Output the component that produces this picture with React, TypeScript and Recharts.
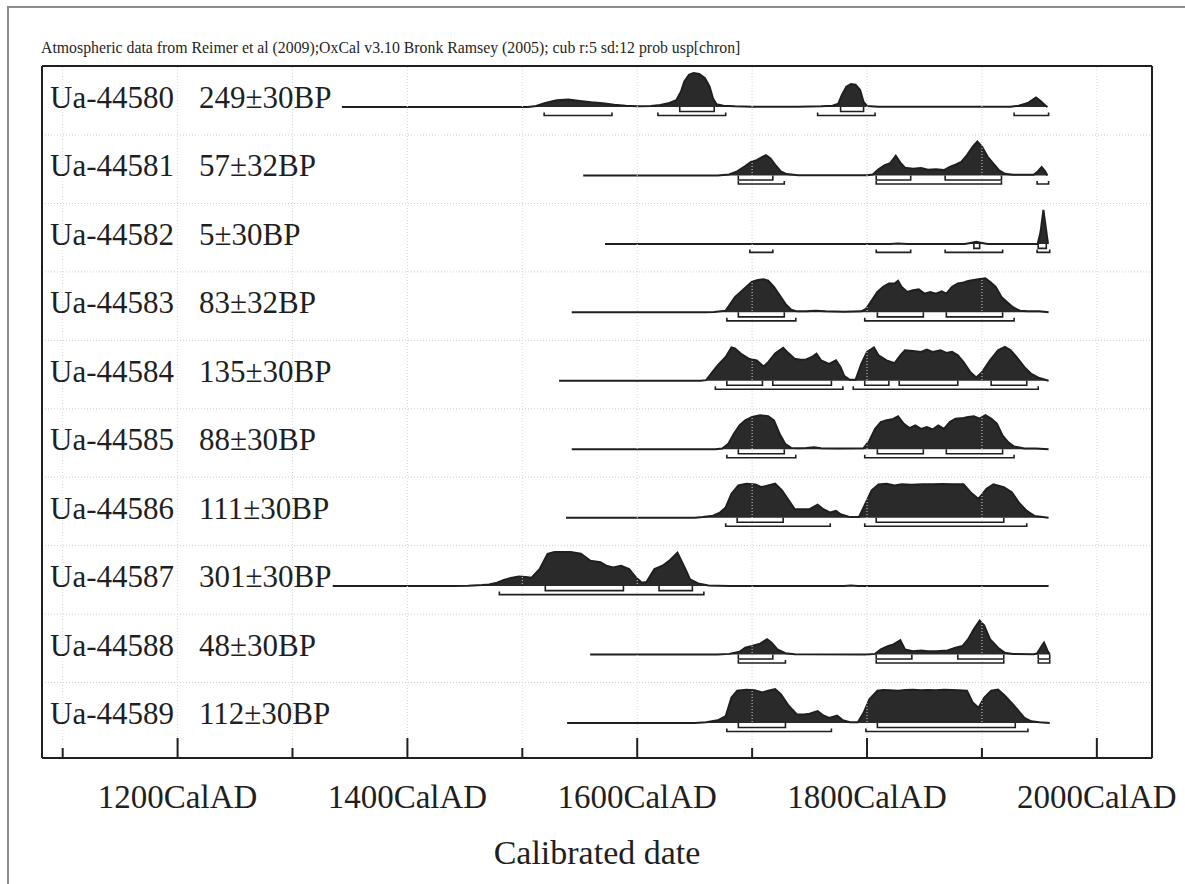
import React from 'react';
import { ComposedChart, Area, Line, XAxis, YAxis, ReferenceLine } from 'recharts';

// ---------- text ----------
const titleText =
  'Atmospheric data from Reimer et al (2009);OxCal v3.10 Bronk Ramsey (2005); cub r:5 sd:12 prob usp[chron]';
const axisTitle = 'Calibrated date';
const sampleIds = ['Ua-44580', 'Ua-44581', 'Ua-44582', 'Ua-44583', 'Ua-44584', 'Ua-44585', 'Ua-44586', 'Ua-44587', 'Ua-44588', 'Ua-44589'];
const bpDates = ['249±30BP', '57±32BP', '5±30BP', '83±32BP', '135±30BP', '88±30BP', '111±30BP', '301±30BP', '48±30BP', '112±30BP'];
const xTicks = [1100, 1200, 1300, 1400, 1500, 1600, 1700, 1800, 1900, 2000];
const xLabelTicks = [1200, 1400, 1600, 1800, 2000];
const xDomain = [1082, 2048];

// ---------- probability distributions [year, relative probability] ----------
const dist44580: [number, number][] = [
  [1343, 0], [1505, 0], [1512, 0.03], [1520, 0.12], [1530, 0.2], [1540, 0.22], [1550, 0.18], [1560, 0.14], [1570, 0.11],
  [1580, 0.07], [1590, 0.04], [1600, 0.02], [1612, 0.03], [1620, 0.06], [1628, 0.12], [1634, 0.2], [1638, 0.45],
  [1641, 0.75], [1645, 0.95], [1649, 1.0], [1654, 0.97], [1659, 0.85], [1663, 0.6], [1666, 0.25], [1669, 0.08],
  [1675, 0.04], [1685, 0.02], [1700, 0.01], [1740, 0.01], [1760, 0.02], [1770, 0.04], [1775, 0.1], [1778, 0.35],
  [1782, 0.6], [1786, 0.68], [1790, 0.66], [1794, 0.5], [1797, 0.15], [1800, 0.03], [1810, 0.01], [1925, 0.01],
  [1932, 0.04], [1940, 0.12], [1947, 0.28], [1951, 0.18], [1955, 0.05], [1957, 0],
];
const dist44581: [number, number][] = [
  [1553, 0], [1670, 0], [1680, 0.03], [1687, 0.12], [1694, 0.28], [1699, 0.4], [1704, 0.45], [1709, 0.55], [1712, 0.6],
  [1716, 0.5], [1720, 0.32], [1725, 0.12], [1730, 0.04], [1740, 0.01], [1800, 0.01], [1805, 0.03], [1810, 0.18],
  [1815, 0.3], [1820, 0.36], [1825, 0.58], [1829, 0.38], [1833, 0.23], [1840, 0.2], [1847, 0.22], [1853, 0.17],
  [1860, 0.18], [1867, 0.16], [1872, 0.25], [1877, 0.32], [1882, 0.4], [1887, 0.6], [1892, 0.85], [1896, 1.0],
  [1900, 0.85], [1905, 0.55], [1910, 0.35], [1915, 0.15], [1920, 0.05], [1927, 0.02], [1945, 0.02], [1948, 0.1],
  [1952, 0.25], [1955, 0.12], [1957, 0],
];
const dist44582: [number, number][] = [
  [1572, 0], [1820, 0], [1827, 0.01], [1835, 0], [1885, 0], [1890, 0.03], [1895, 0.06], [1900, 0.03], [1905, 0],
  [1948.5, 0], [1951, 0.35], [1953.5, 1.0], [1955.5, 0.5], [1957.5, 0],
];
const dist44583: [number, number][] = [
  [1543, 0], [1660, 0], [1667, 0.01], [1677, 0.05], [1680, 0.2], [1685, 0.45], [1690, 0.6], [1695, 0.75], [1700, 0.9],
  [1705, 0.95], [1710, 0.97], [1714, 0.93], [1719, 0.75], [1724, 0.5], [1729, 0.25], [1734, 0.08], [1739, 0.03],
  [1747, 0.03], [1755, 0.05], [1764, 0.03], [1780, 0.02], [1795, 0.03], [1799, 0.1], [1804, 0.35], [1809, 0.6],
  [1814, 0.75], [1819, 0.85], [1824, 0.85], [1827, 0.93], [1830, 0.75], [1835, 0.6], [1840, 0.65], [1845, 0.68],
  [1850, 0.55], [1855, 0.6], [1860, 0.55], [1865, 0.62], [1869, 0.55], [1874, 0.75], [1879, 0.85], [1884, 0.88],
  [1888, 0.92], [1893, 0.95], [1898, 0.98], [1903, 1.0], [1907, 0.9], [1912, 0.75], [1917, 0.45], [1922, 0.3],
  [1927, 0.15], [1933, 0.05], [1940, 0.03], [1950, 0.03], [1958, 0],
];
const dist44584: [number, number][] = [
  [1532, 0], [1655, 0], [1660, 0.02], [1664, 0.2], [1670, 0.45], [1677, 0.7], [1682, 0.98], [1685, 0.95], [1690, 0.8],
  [1697, 0.65], [1704, 0.6], [1710, 0.42], [1714, 0.55], [1720, 0.8], [1727, 0.97], [1732, 0.8], [1737, 0.65],
  [1742, 0.62], [1747, 0.63], [1752, 0.7], [1756, 0.8], [1760, 0.6], [1767, 0.5], [1773, 0.6], [1777, 0.4],
  [1780, 0.15], [1785, 0.03], [1790, 0.03], [1795, 0.5], [1800, 0.85], [1806, 0.98], [1810, 0.75], [1817, 0.6],
  [1824, 0.52], [1829, 0.75], [1833, 0.9], [1840, 0.88], [1847, 0.85], [1852, 0.92], [1857, 0.85], [1864, 0.9],
  [1869, 0.82], [1874, 0.85], [1879, 0.75], [1884, 0.55], [1890, 0.25], [1895, 0.1], [1900, 0.25], [1907, 0.6],
  [1914, 0.9], [1920, 1.0], [1925, 0.9], [1930, 0.7], [1937, 0.4], [1943, 0.2], [1950, 0.08], [1958, 0],
];
const dist44585: [number, number][] = [
  [1543, 0], [1668, 0], [1674, 0.02], [1679, 0.15], [1684, 0.45], [1689, 0.7], [1694, 0.85], [1700, 0.95], [1707, 1.0],
  [1714, 0.97], [1719, 0.85], [1724, 0.45], [1729, 0.15], [1734, 0.04], [1740, 0.03], [1747, 0.04], [1754, 0.06],
  [1760, 0.03], [1774, 0.02], [1797, 0.03], [1802, 0.25], [1807, 0.6], [1812, 0.8], [1817, 0.85], [1822, 0.88],
  [1827, 0.97], [1832, 0.75], [1837, 0.62], [1842, 0.7], [1847, 0.6], [1852, 0.65], [1857, 0.58], [1862, 0.7],
  [1867, 0.6], [1872, 0.8], [1877, 0.9], [1884, 0.92], [1888, 0.95], [1893, 0.97], [1898, 0.9], [1903, 1.0],
  [1908, 0.9], [1913, 0.75], [1918, 0.4], [1923, 0.2], [1928, 0.08], [1937, 0.02], [1947, 0.02], [1958, 0],
];
const dist44586: [number, number][] = [
  [1538, 0], [1650, 0], [1657, 0.02], [1666, 0.06], [1672, 0.15], [1677, 0.3], [1682, 0.7], [1688, 0.95], [1695, 1.0],
  [1703, 0.98], [1708, 0.9], [1714, 0.95], [1720, 1.0], [1726, 0.8], [1732, 0.5], [1737, 0.25], [1744, 0.25],
  [1750, 0.25], [1757, 0.38], [1762, 0.25], [1768, 0.15], [1773, 0.2], [1777, 0.1], [1784, 0.03], [1793, 0.02],
  [1797, 0.3], [1804, 0.8], [1810, 0.98], [1817, 1.0], [1824, 0.95], [1830, 0.98], [1839, 0.97], [1848, 0.98],
  [1857, 0.98], [1866, 0.99], [1875, 0.98], [1884, 0.98], [1890, 0.75], [1897, 0.55], [1904, 0.85], [1910, 0.98],
  [1919, 0.9], [1926, 0.75], [1932, 0.45], [1939, 0.2], [1946, 0.05], [1958, 0],
];
const dist44587: [number, number][] = [
  [1335, 0], [1440, 0], [1453, 0.01], [1465, 0.03], [1471, 0.05], [1478, 0.1], [1484, 0.18], [1490, 0.24],
  [1497, 0.28], [1503, 0.27], [1508, 0.25], [1515, 0.5], [1522, 0.95], [1528, 1.0], [1542, 1.0], [1551, 0.95],
  [1559, 0.75], [1568, 0.7], [1573, 0.6], [1579, 0.55], [1586, 0.6], [1593, 0.5], [1599, 0.25], [1604, 0.1],
  [1608, 0.12], [1615, 0.5], [1622, 0.6], [1628, 0.75], [1635, 0.98], [1642, 0.5], [1646, 0.2], [1653, 0.08],
  [1662, 0.02], [1670, 0.01], [1680, 0], [1780, 0], [1786, 0.02], [1792, 0], [1958, 0],
];
const dist44588: [number, number][] = [
  [1559, 0], [1670, 0], [1680, 0.02], [1689, 0.08], [1694, 0.2], [1700, 0.25], [1707, 0.32], [1713, 0.45],
  [1717, 0.35], [1722, 0.15], [1729, 0.04], [1737, 0.01], [1800, 0], [1807, 0.02], [1812, 0.15], [1818, 0.25],
  [1823, 0.3], [1829, 0.42], [1833, 0.15], [1840, 0.1], [1847, 0.12], [1853, 0.1], [1860, 0.1], [1870, 0.12],
  [1877, 0.2], [1883, 0.25], [1888, 0.45], [1893, 0.75], [1898, 1.0], [1902, 0.85], [1907, 0.45], [1914, 0.2],
  [1920, 0.05], [1927, 0.02], [1945, 0.01], [1948, 0.03], [1951, 0.2], [1954, 0.35], [1957, 0.12], [1959, 0],
];
const dist44589: [number, number][] = [
  [1539, 0], [1650, 0], [1660, 0.02], [1670, 0.08], [1677, 0.2], [1682, 0.75], [1687, 0.95], [1695, 0.98],
  [1702, 0.96], [1709, 0.9], [1714, 0.95], [1720, 1.0], [1725, 0.85], [1732, 0.5], [1739, 0.25], [1745, 0.25],
  [1750, 0.27], [1757, 0.35], [1762, 0.22], [1767, 0.15], [1774, 0.22], [1779, 0.08], [1785, 0.02], [1792, 0.02],
  [1797, 0.3], [1802, 0.7], [1809, 0.95], [1814, 0.97], [1820, 0.96], [1827, 0.95], [1833, 0.97], [1840, 0.98],
  [1847, 0.96], [1853, 0.97], [1860, 0.96], [1867, 0.98], [1874, 0.97], [1880, 0.96], [1887, 0.95], [1892, 0.6],
  [1897, 0.45], [1902, 0.75], [1908, 0.95], [1914, 0.98], [1920, 0.8], [1927, 0.55], [1932, 0.35], [1937, 0.15],
  [1943, 0.05], [1950, 0.02], [1959, 0],
];

// ---------- 68.2% and 95.4% ranges [from, to] ----------
const r68_44580 = [[1637, 1667], [1777, 1797]];
const r95_44580 = [[1519, 1578], [1618, 1677], [1757, 1807], [1928, 1958]];
const r68_44581 = [[1688, 1718], [1808, 1838], [1868, 1917]];
const r95_44581 = [[1688, 1728], [1808, 1917], [1948, 1958]];
const r68_44582 = [[1893, 1898], [1949, 1956]];
const r95_44582 = [[1698, 1718], [1808, 1838], [1868, 1918], [1948, 1959]];
const r68_44583 = [[1688, 1728], [1809, 1849], [1869, 1918]];
const r95_44583 = [[1678, 1738], [1798, 1928]];
const r68_44584 = [[1678, 1709], [1718, 1769], [1798, 1819], [1828, 1879], [1908, 1939]];
const r95_44584 = [[1668, 1779], [1788, 1949]];
const r68_44585 = [[1688, 1728], [1809, 1849], [1869, 1918]];
const r95_44585 = [[1678, 1738], [1798, 1928]];
const r68_44586 = [[1687, 1727], [1808, 1919]];
const r95_44586 = [[1677, 1768], [1798, 1939]];
const r68_44587 = [[1520, 1588], [1619, 1648]];
const r95_44587 = [[1480, 1658]];
const r68_44588 = [[1688, 1718], [1808, 1839], [1879, 1919], [1949, 1959]];
const r95_44588 = [[1688, 1729], [1808, 1919], [1949, 1959]];
const r68_44589 = [[1688, 1729], [1809, 1929]];
const r95_44589 = [[1678, 1769], [1799, 1940]];

const distributions = [dist44580, dist44581, dist44582, dist44583, dist44584, dist44585, dist44586, dist44587, dist44588, dist44589];
const ranges68 = [r68_44580, r68_44581, r68_44582, r68_44583, r68_44584, r68_44585, r68_44586, r68_44587, r68_44588, r68_44589];
const ranges95 = [r95_44580, r95_44581, r95_44582, r95_44583, r95_44584, r95_44585, r95_44586, r95_44587, r95_44588, r95_44589];

// ---------- layout (y units: one row = 1) ----------
const W = 1185;
const H = 884;
const PLOT = { left: 42, top: 66, right: 1152, bottom: 758 };
const ROWS = sampleIds.length;
const ROW_PX = 68.44;
const px = (p: number) => p / ROW_PX;
const Y_TOP = px(PLOT.bottom - PLOT.top);
const BOTTOM_PAD = px(35);
const PEAK = px(34);
const baseOf = (i: number) => ROWS - 1 - i + BOTTOM_PAD;

const areaData = distributions.map((d, i) => d.map(([x, p]) => ({ x, y: baseOf(i) + p * PEAK })));
const bracketData = (rs: number[][], i: number, off: number, tick: number) =>
  rs.flatMap(([a, b]) => {
    const yb = baseOf(i) - px(off);
    const yt = yb + px(tick);
    return [
      { x: a, y: yt },
      { x: a, y: yb },
      { x: b, y: yb },
      { x: b, y: yt },
      { x: b, y: null },
    ];
  });
const data68 = ranges68.map((r, i) => bracketData(r, i, 4.5, 4.5));
const data95 = ranges95.map((r, i) => bracketData(r, i, 8.5, 3));
const baselineTicks = sampleIds.map((_, i) => baseOf(i));
const gridRows = sampleIds.slice(0, -1).map((_, i) => baseOf(i) - px(28));

const INK = '#1f1f1f';
const SERIF = '"Liberation Serif", "DejaVu Serif", serif';

const XTick = (props: any) => {
  const { x, y, payload } = props;
  const v = payload.value as number;
  const major = xLabelTicks.includes(v);
  return (
    <g>
      <line x1={x} x2={x} y1={y} y2={y - (major ? 20 : 10)} stroke={INK} strokeWidth={2} />
      {major && (
        <text x={x} y={y + 50} textAnchor="middle" fontSize={33} fontFamily={SERIF} fill={INK}>
          {`${v}CalAD`}
        </text>
      )}
    </g>
  );
};

const RowLabel = (props: any) => {
  const { x, y, payload } = props;
  const i = Math.round(ROWS - 1 + BOTTOM_PAD - payload.value);
  return (
    <g>
      <text x={x + 8} y={y + 1} fontSize={31} fontFamily={SERIF} fill={INK}>
        {sampleIds[i]}
      </text>
      <text x={x + 157} y={y + 1} fontSize={31} fontFamily={SERIF} fill={INK}>
        {bpDates[i]}
      </text>
    </g>
  );
};

export default function App() {
  return (
    <div
      style={{
        position: 'absolute',
        left: 0,
        top: 0,
        width: W,
        height: H,
        background: '#fff',
        overflow: 'hidden',
        fontFamily: SERIF,
        color: INK,
      }}
    >
      <div
        style={{
          position: 'absolute',
          left: 7,
          top: 6,
          width: 1400,
          height: 1100,
          border: '2px solid #8c8c8c',
          boxSizing: 'border-box',
        }}
      />
      <div style={{ position: 'absolute', left: 41, top: 40, fontSize: 15.8, lineHeight: '16px', whiteSpace: 'nowrap' }}>
        {titleText}
      </div>
      <div style={{ position: 'absolute', left: 0, top: 0 }}>
        <ComposedChart
          width={W}
          height={H}
          margin={{ top: PLOT.top - 1, left: PLOT.left - 1, right: W - PLOT.right - 1, bottom: H - PLOT.bottom - 1 }}
        >
          <XAxis
            dataKey="x"
            type="number"
            domain={xDomain}
            allowDataOverflow
            ticks={xTicks}
            interval={0}
            height={1}
            tickSize={0}
            tickMargin={0}
            tickLine={false}
            tick={<XTick />}
            axisLine={{ stroke: INK, strokeWidth: 2 }}
          />
          <XAxis
            xAxisId="top"
            orientation="top"
            type="number"
            domain={xDomain}
            ticks={xTicks}
            height={1}
            tick={false}
            tickLine={false}
            axisLine={{ stroke: INK, strokeWidth: 2 }}
          />
          <YAxis
            type="number"
            domain={[0, Y_TOP]}
            allowDataOverflow
            width={1}
            ticks={baselineTicks}
            interval={0}
            tickSize={0}
            tickMargin={0}
            tickLine={false}
            tick={<RowLabel />}
            axisLine={{ stroke: INK, strokeWidth: 2 }}
          />
          <YAxis
            yAxisId="right"
            orientation="right"
            type="number"
            domain={[0, Y_TOP]}
            ticks={baselineTicks}
            width={1}
            tick={false}
            tickLine={false}
            axisLine={{ stroke: INK, strokeWidth: 2 }}
          />
          {xTicks.map((t) => (
            <ReferenceLine key={`v${t}`} x={t} stroke="#d6d6d6" strokeDasharray="1 2" strokeWidth={1} />
          ))}
          {gridRows.map((g, i) => (
            <ReferenceLine key={`h${i}`} y={g} stroke="#cdcdcd" strokeDasharray="1 2" strokeWidth={1} />
          ))}
          {areaData.map((d, i) => (
            <Area
              key={`a${i}`}
              data={d}
              dataKey="y"
              type="linear"
              baseValue={baseOf(i)}
              stroke={INK}
              strokeWidth={2}
              fill="#2a2a2a"
              fillOpacity={1}
              dot={false}
              activeDot={false}
              isAnimationActive={false}
            />
          ))}
          {data68.map((d, i) => (
            <Line
              key={`l68${i}`}
              data={d}
              dataKey="y"
              type="linear"
              stroke={INK}
              strokeWidth={1.6}
              dot={false}
              activeDot={false}
              connectNulls={false}
              isAnimationActive={false}
            />
          ))}
          {data95.map((d, i) => (
            <Line
              key={`l95${i}`}
              data={d}
              dataKey="y"
              type="linear"
              stroke={INK}
              strokeWidth={1.6}
              dot={false}
              activeDot={false}
              connectNulls={false}
              isAnimationActive={false}
            />
          ))}
        </ComposedChart>
      </div>
      <div
        style={{
          position: 'absolute',
          left: 397,
          width: 400,
          top: 834,
          textAlign: 'center',
          fontSize: 34,
          lineHeight: '38px',
        }}
      >
        {axisTitle}
      </div>
    </div>
  );
}
